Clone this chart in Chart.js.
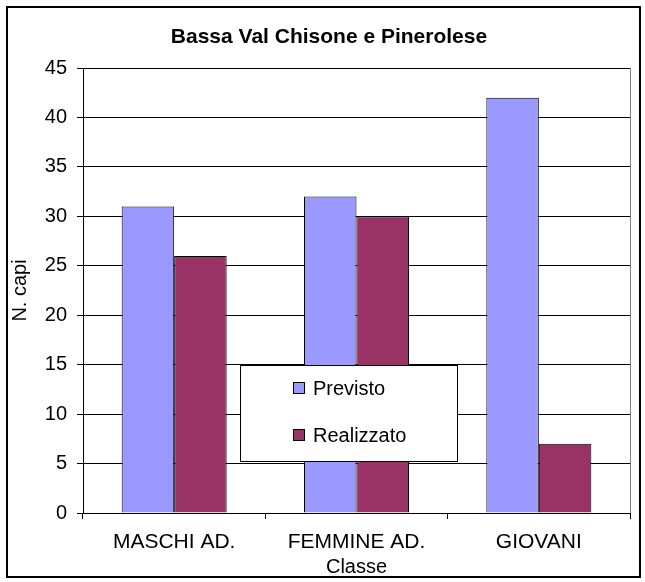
<!DOCTYPE html>
<html><head><meta charset="utf-8">
<script src="https://cdn.jsdelivr.net/npm/chart.js@4"></script>
<style>html,body{margin:0;padding:0;background:#fff}#w{width:645px;height:582px}</style>
</head><body><div id="w"><canvas id="c" width="645" height="582"></canvas></div>
<script>
const categories = ["MASCHI AD.", "FEMMINE AD.", "GIOVANI"];
const previsto = [31, 32, 42];
const realizzato = [26, 30, 7];
const seriesNames = ["Previsto", "Realizzato"];
const yTicks = [0, 5, 10, 15, 20, 25, 30, 35, 40, 45];
const titleText = "Bassa Val Chisone e Pinerolese";
const FONT = "'Liberation Sans', Arial, sans-serif";

const frame = {
  id: 'frame',
  afterDraw(chart) {
    const ctx = chart.ctx, a = chart.chartArea;
    ctx.save();
    // outer frame
    ctx.strokeStyle = '#000'; ctx.lineWidth = 2;
    ctx.strokeRect(7, 7, 633, 570);
    // plot area right border
    ctx.lineWidth = 1;
    ctx.strokeStyle = '#808080';
    ctx.beginPath(); ctx.moveTo(Math.round(a.right) + 0.5, a.top); ctx.lineTo(Math.round(a.right) + 0.5, a.bottom); ctx.stroke();
    // title
    ctx.fillStyle = '#000'; ctx.font = 'bold 21px ' + FONT;
    ctx.textAlign = 'center'; ctx.textBaseline = 'alphabetic';
    ctx.fillText(titleText, 329, 43);
    // legend box
    const x = Math.round(a.left) + 157, y = Math.round(a.top) + 297, w = 217, h = 96;
    ctx.fillStyle = '#fff'; ctx.fillRect(x, y, w, h);
    ctx.strokeStyle = '#000'; ctx.strokeRect(x + 0.5, y + 0.5, w, h);
    ctx.font = '20px ' + FONT; ctx.textBaseline = 'middle'; ctx.textAlign = 'left';
    chart.data.datasets.forEach((ds, i) => {
      const yy = y + 23 + i * 47;
      ctx.fillStyle = ds.backgroundColor; ctx.fillRect(x + 53, yy - 6, 12, 12);
      ctx.strokeStyle = '#000'; ctx.strokeRect(x + 53.5, yy - 5.5, 11, 11);
      ctx.fillStyle = '#000'; ctx.fillText(ds.label, x + 73, yy + 1);
    });
    ctx.restore();
  }
};

new Chart(document.getElementById('c'), {
  type: 'bar',
  data: {
    labels: categories,
    datasets: [
      { label: seriesNames[0], data: previsto, backgroundColor: '#9999FF', borderColor: '#000', borderWidth: 1 },
      { label: seriesNames[1], data: realizzato, backgroundColor: '#993366', borderColor: '#000', borderWidth: 1 }
    ]
  },
  options: {
    responsive: false, animation: false,
    layout: { padding: { left: 0, right: 15, top: 68, bottom: 0 } },
    plugins: { legend: { display: false }, tooltip: { enabled: false }, title: { display: false } },
    datasets: { bar: { categoryPercentage: 0.576, barPercentage: 1 } },
    scales: {
      x: {
        afterFit: s => { s.height = 69; },
        grid: { offset: true, drawOnChartArea: false, drawTicks: true, tickLength: 6, color: '#000' },
        border: { color: '#000' },
        ticks: { color: '#000', font: { family: FONT, size: 21 }, padding: 11, maxRotation: 0 },
        title: { display: true, text: 'Classe', color: '#000', font: { family: FONT, size: 20 }, padding: { top: 0, bottom: 3 } }
      },
      y: {
        min: 0, max: 45,
        afterFit: s => { s.width = 83; },
        afterBuildTicks: s => { s.ticks = yTicks.map(v => ({ value: v })); },
        grid: { color: '#000', tickLength: 6 },
        border: { color: '#000' },
        ticks: { color: '#000', font: { family: FONT, size: 20 }, padding: 10 },
        title: { display: true, text: 'N. capi', color: '#000', font: { family: FONT, size: 20 }, padding: { top: 8, bottom: 0 } }
      }
    }
  },
  plugins: [frame]
});
</script></body></html>
